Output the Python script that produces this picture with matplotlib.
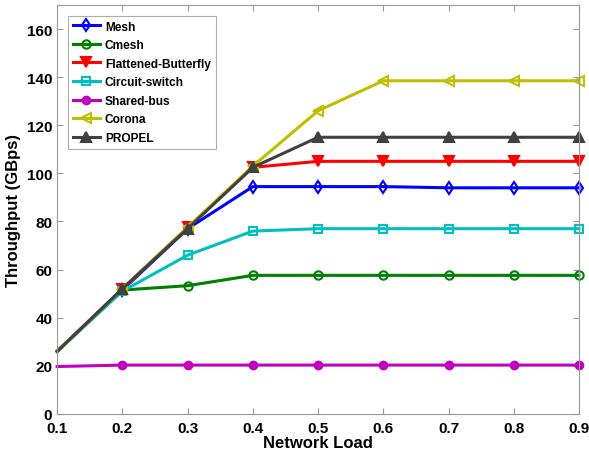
import matplotlib
matplotlib.use("Agg")
import matplotlib.pyplot as plt

plt.rcParams['font.family'] = ['Liberation Sans', 'DejaVu Sans']
plt.rcParams['font.weight'] = 'bold'

# network load values
load = [0.1, 0.2, 0.3, 0.4, 0.5, 0.6, 0.7, 0.8, 0.9]

# throughput (GBps) per architecture
mesh = [26, 51.5, 77, 94.5, 94.5, 94.5, 94, 94, 94]
cmesh = [26, 51.5, 53.3, 57.6, 57.6, 57.6, 57.6, 57.6, 57.6]
flat_bfly = [26, 52, 77.5, 102.5, 105, 105, 105, 105, 105]
circuit = [26, 51, 66, 76, 77, 77, 77, 77, 77]
shared_bus = [19.7, 20.3, 20.3, 20.3, 20.3, 20.3, 20.3, 20.3, 20.3]
corona = [26, 52, 77.5, 103, 126, 138.5, 138.5, 138.5, 138.5]
propel = [26, 52, 77, 102.5, 115, 115, 115, 115, 115]

names = ["Mesh", "Cmesh", "Flattened-Butterfly", "Circuit-switch",
         "Shared-bus", "Corona", "PROPEL"]

series = [
    (mesh, "#0000ff", "d", "none", 6.5),
    (cmesh, "#008000", "o", "none", 6),
    (flat_bfly, "#ff0000", "v", "#ff0000", 7.5),
    (circuit, "#00bfbf", "s", "none", 5.5),
    (shared_bus, "#bf00bf", "o", "#bf00bf", 5.5),
    (corona, "#bfbf00", "<", "none", 7.5),
    (propel, "#404040", "^", "#404040", 7.5),
]

fig = plt.figure(figsize=(5.89, 4.60), dpi=100)
ax = fig.add_axes([0.097, 0.098, 0.886, 0.889])

for (vals, col, mk, fc, ms), name in zip(series, names):
    ax.plot(load, vals, color=col, marker=mk, markerfacecolor=fc,
            markeredgecolor=col, markeredgewidth=1.5, markersize=ms,
            linewidth=2.2, label=name, markevery=range(1, 9), clip_on=False)

ax.set_xlim(0.1, 0.9)
ax.set_ylim(0, 170)
ax.set_xticks([0.1, 0.2, 0.3, 0.4, 0.5, 0.6, 0.7, 0.8, 0.9])
ax.set_yticks(range(0, 161, 20))
ax.tick_params(axis='both', direction='in', color='#999999', labelsize=11,
               top=True, right=True, length=4)
ax.tick_params(axis='x', pad=5)
for lab in ax.get_xticklabels() + ax.get_yticklabels():
    lab.set_fontweight('bold')
for s in ax.spines.values():
    s.set_color('#999999')

ax.set_xlabel("Network Load", fontsize=12, fontweight='bold', labelpad=0)
ax.set_ylabel("Throughput (GBps)", fontsize=12, fontweight='bold', labelpad=4)

leg = ax.legend(loc='upper left', prop={'weight': 'bold', 'size': 8.6},
                frameon=True, fancybox=False, edgecolor='#999999',
                borderpad=0.4, labelspacing=0.55, handlelength=2.3,
                handletextpad=0.4, borderaxespad=0.9)
leg.get_frame().set_linewidth(0.8)

fig.savefig("out.png", dpi=100)
